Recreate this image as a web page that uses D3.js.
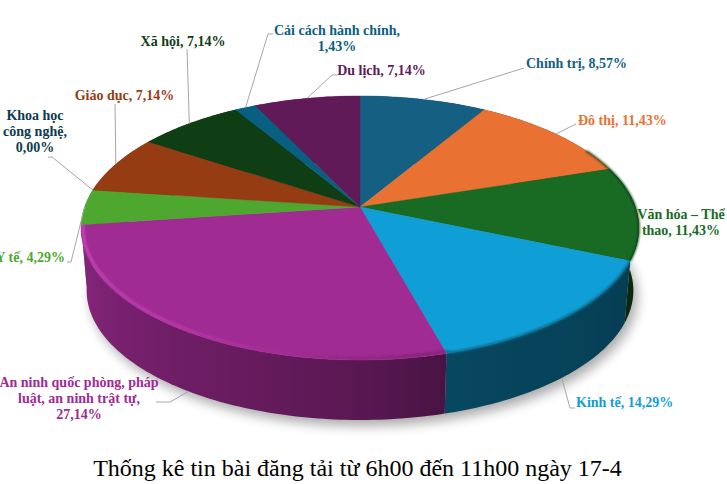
<!DOCTYPE html>
<html><head><meta charset="utf-8">
<script src="https://cdn.jsdelivr.net/npm/d3@7/dist/d3.min.js"></script>
<style>html,body{margin:0;padding:0;background:#fff;overflow:hidden}svg{display:block}</style>
</head><body><svg id="c" width="727" height="484"></svg>
<script>
const categories=["Chính trị","Đô thị","Văn hóa – Thể thao","Kinh tế","An ninh quốc phòng, pháp luật, an ninh trật tự","Y tế","Khoa học công nghệ","Giáo dục","Xã hội","Cải cách hành chính","Du lịch"];
const seriesValues=[8.57,11.43,11.43,14.29,27.14,4.29,0.00,7.14,7.14,1.43,7.14];
const colors=["#156082","#e97132","#196b24","#0f9ed5","#a02b93","#4ea72e","#0d3a4e","#953c13","#0f3d14","#095f80","#5f1a57"];
const titleText="Thống kê tin bài đăng tải từ 6h00 đến 11h00 ngày 17-4";

// layout of the labels (not data)
const labelLayout=[
 {lines:["Chính trị, 8,57%"],x:526,y:63,a:"start",elbow:[[524,68]]},
 {lines:["Đô thị, 11,43%"],x:578,y:120,a:"start",elbow:[[576,124]],},
 {lines:["Văn hóa – Thể","thao, 11,43%"],x:681,y:214,a:"middle"},
 {lines:["Kinh tế, 14,29%"],x:576,y:402,a:"start",elbow:[[570,408],[575,408]],low:true},
 {lines:["An ninh quốc phòng, pháp","luật, an ninh trật tự,","27,14%"],x:79,y:382,a:"middle",elbow:[[170,402],[156,402]],low:true},
 {lines:["Y tế, 4,29%"],x:65,y:257,a:"end",elbow:[[71,262],[67,262]]},
 {lines:["Khoa học","công nghệ,","0,00%"],x:35,y:115,a:"middle",elbow:[[52,157],[48,157]]},
 {lines:["Giáo dục, 7,14%"],x:124.5,y:95,a:"middle",elbow:[[115,104]]},
 {lines:["Xã hội, 7,14%"],x:183,y:41,a:"middle",elbow:[[187,49]]},
 {lines:["Cải cách hành chính,","1,43%"],x:337,y:30,a:"middle",elbow:[[268,34],[273,34]]},
 {lines:["Du lịch, 7,14%"],x:381.5,y:70,a:"middle",elbow:[[332,75],[337,75]]}
];

const svg=d3.select("#c");
const defs=svg.append("defs");
[["b1",0.8],["b6",6]].forEach(([id,s])=>defs.append("filter").attr("id",id)
  .attr("x","-20%").attr("y","-20%").attr("width","140%").attr("height","140%")
  .append("feGaussianBlur").attr("stdDeviation",s));

// perspective projection of the pie disc
const p=0.159,R=275.4,K=128.7,CX=360;
const project=(a,cy,s)=>{const u=Math.sin(a),v=-Math.cos(a),w=1-p*v;return [CX+s*R*u/w,cy+s*K*v/w];};
const top_=a=>project(a,207,1), bot=a=>project(a,270,0.98);
const TAU=Math.PI*2,deg=Math.PI/180;
const arcs=d3.pie().sort(null).value(d=>d).startAngle(0).endAngle(TAU)(seriesValues);
const line=d3.line();
const steps=(a0,a1,st)=>{const n=Math.max(1,Math.ceil((a1-a0)/st));return d3.range(n+1).map(i=>a0+(a1-a0)*i/n);};

// soft shadow
svg.append("path").attr("d",line(steps(0,TAU,deg).map(a=>{const q=bot(a);return [q[0]+4,q[1]+6];}))+"Z")
  .attr("fill","#000").attr("opacity",.33).attr("filter","url(#b6)");

// wall, one polygon per slice with a horizontal gradient following the angle
const shade=d3.scaleLinear().domain([90,165,180,262,360]).range([.36,.45,.56,.87,.87]).clamp(true);
const tinted=(i,a)=>{const c=d3.rgb(colors[i]),f=shade(a/deg);return d3.rgb(c.r*f,c.g*f,c.b*f).formatHex();};
const walls=arcs.map((d,i)=>({d,i})).filter(o=>o.d.endAngle>o.d.startAngle)
  .sort((x,y)=>{const mv=o=>d3.max(steps(o.d.startAngle,o.d.endAngle,deg),a=>-Math.cos(a));return mv(x)-mv(y);});
walls.forEach(o=>{
  const a0=Math.max(o.d.startAngle,90*deg),a1=Math.min(o.d.endAngle,262*deg);
  const gid="w"+o.i;
  const g=defs.append("linearGradient").attr("id",gid).attr("gradientUnits","userSpaceOnUse");
  let fill=tinted(o.i,o.d.startAngle);
  if(a1>a0){
    const st=steps(a0,a1,6*deg),xs=st.map(a=>top_(a)[0]);
    const lo=d3.min(xs),hi=d3.max(xs);
    g.attr("x1",lo).attr("x2",hi).attr("y1",0).attr("y2",0);
    st.map((a,k)=>({off:(xs[k]-lo)/(hi-lo),col:tinted(o.i,a)})).sort((m,n)=>m.off-n.off)
      .forEach(s=>g.append("stop").attr("offset",s.off).attr("stop-color",s.col));
    fill=`url(#${gid})`;
  }
  const st=steps(o.d.startAngle,o.d.endAngle,deg);
  svg.append("path").attr("d",line([...st.map(top_),...st.slice().reverse().map(bot)])+"Z").attr("fill",fill);
});

// top face
svg.append("g").selectAll("path").data(arcs.filter(d=>d.endAngle>d.startAngle)).join("path")
  .attr("d",d=>line([[CX,207],...steps(d.startAngle,d.endAngle,deg).map(top_)])+"Z")
  .attr("fill",(d)=>colors[arcs.indexOf(d)])
  .attr("stroke",(d)=>colors[arcs.indexOf(d)]).attr("stroke-width",.4);

// rim bevel: a soft stroke sitting on the edge between the face and the wall
const rim=svg.append("g").attr("filter","url(#b1)");
const lim=arcs[4].startAngle;
const edge=a=>{const q=top_(a),f=a>=lim?.993:1;return [CX+(q[0]-CX)*f,207+(q[1]-207)*(a>=lim?.987:1)];};
const purpleRim=d3.scaleLinear().domain([170,215,262]).range(["#7d2274","#c23cb2","#d24ec3"]).clamp(true);
rim.selectAll("path").data(d3.pairs(steps(114*deg,262*deg,1.5*deg))).join("path")
  .attr("d",([a,b])=>line([edge(a),edge(b)]))
  .attr("fill","none").attr("stroke-width",2.2).attr("stroke-linecap","round")
  .attr("stroke",([a])=>a>=lim?purpleRim(a/deg):"#0a6484");
rim.append("path").attr("d",line(steps(62*deg,113*deg,2*deg).map(top_))).attr("fill","none")
  .attr("stroke","#0b3a12").attr("stroke-width",1.6);

// leader lines
svg.append("g").selectAll("path").data(labelLayout.map((l,i)=>({l,d:arcs[i]})).filter(o=>o.l.elbow)).join("path")
  .attr("d",o=>{const a=(o.d.startAngle+o.d.endAngle)/2;const st=o.l.low?bot(a):top_(a);return line([st,...o.l.elbow]);})
  .attr("fill","none").attr("stroke","#a6a6a6").attr("stroke-width",1);

// labels
const lab=svg.append("g").attr("font-family","'Liberation Serif','Times New Roman',serif")
  .attr("font-weight","bold").attr("font-size",14);
labelLayout.forEach((l,i)=>{
  const t=lab.append("text").attr("text-anchor",l.a).attr("fill",colors[i]);
  l.lines.forEach((s,k)=>t.append("tspan").attr("x",l.x).attr("y",l.y+k*16).attr("dy",".35em").text(s));
});
svg.append("text").attr("x",357.5).attr("y",476).attr("text-anchor","middle")
  .attr("font-family","'Liberation Serif','Times New Roman',serif").attr("font-size",24).attr("fill","#000").text(titleText);
</script></body></html>
